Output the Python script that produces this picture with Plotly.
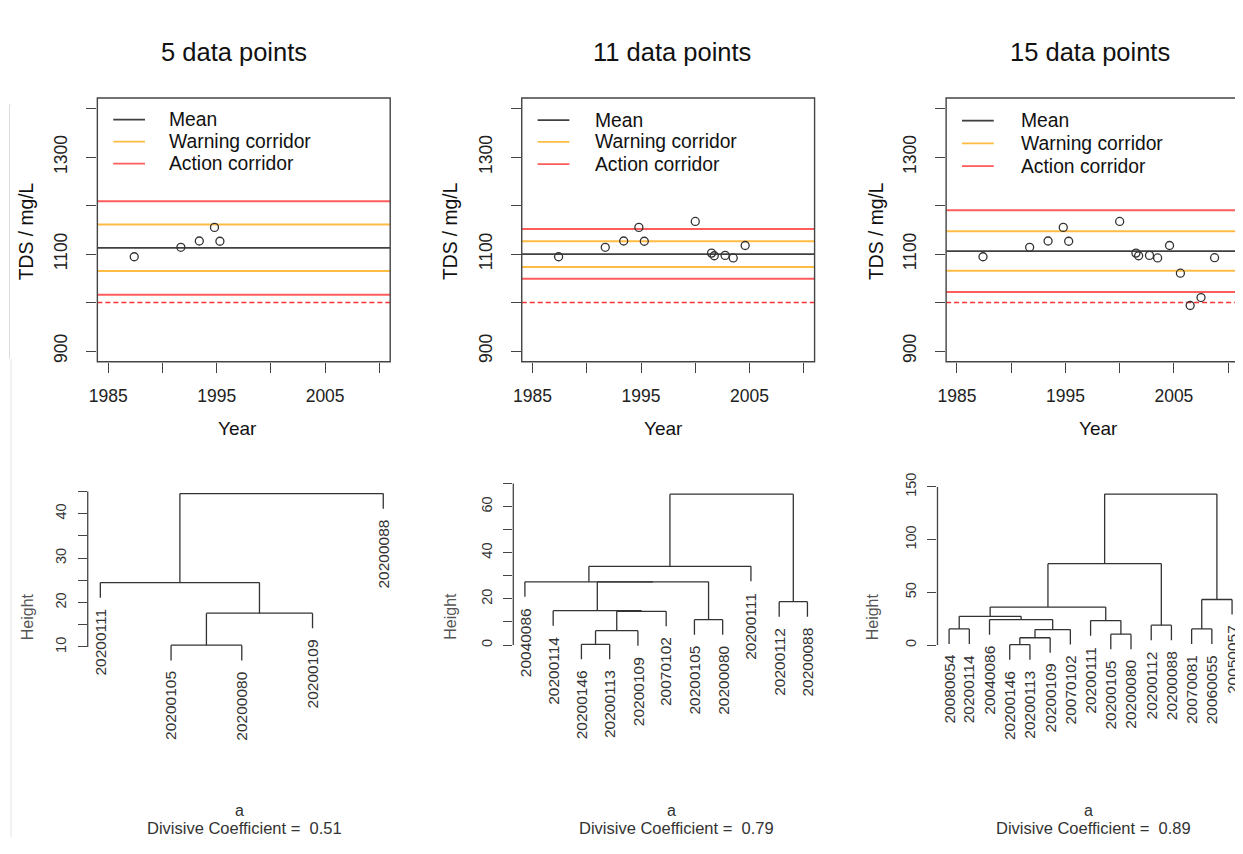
import plotly.graph_objects as go

W, H = 1243, 854          # target picture size
OFF = 8                   # default body margin of the html page (left/top/bottom)
FW, FH = W - OFF, H - 2 * OFF  # figure size so that the whole page == picture size
FONT = "Liberation Sans, Arial, sans-serif"

# ---------------- data: control charts ----------------
years = [1987.4, 1991.7, 1993.4, 1994.8, 1995.3, 2000.0, 2001.5, 2001.75,
         2002.75, 2003.5, 2004.6, 2005.6, 2006.5, 2007.5, 2008.75]
tds = [1094.5, 1114.0, 1127.0, 1155.0, 1126.5, 1167.3, 1102.0, 1096.6,
       1097.3, 1092.0, 1117.7, 1060.6, 994.0, 1010.4, 1092.5]
n_points = [5, 11, 15]
titles = ["5 data points", "11 data points", "15 data points"]
mean_vals = [1113.0, 1100.0, 1106.0]
warn_lo = [1065.0, 1073.5, 1065.4]
warn_hi = [1161.0, 1126.5, 1147.0]
act_lo = [1016.0, 1049.0, 1022.0]
act_hi = [1209.0, 1151.5, 1190.3]
limit_val = 1000
legend_labels = ["Mean", "Warning corridor", "Action corridor"]
year_ticks = [1985, 1990, 1995, 2000, 2005, 2010]
year_tick_text = ["1985", "", "1995", "", "2005", ""]
tds_ticks = [900, 1000, 1100, 1200, 1300, 1400]
tds_tick_text = ["900", "", "1100", "", "1300", ""]

# ---------------- data: dendrograms (R hclust style merges) ----------------
d1_labels = ["20200111", "20200105", "20200080", "20200109", "20200088"]
d1_merge = [(-2, -3), (1, -4), (-1, 2), (3, -5)]
d1_height = [10.4, 17.6, 24.5, 44.5]

d2_labels = ["20040086", "20200114", "20200146", "20200113", "20200109", "20070102",
             "20200105", "20200080", "20200111", "20200112", "20200088"]
d2_merge = [(-3, -4), (1, -5), (2, -6), (-2, 3), (-7, -8), (4, 5), (-1, 6),
            (7, -9), (-10, -11), (8, 9)]
d2_height = [0.3, 6.2, 14.6, 14.9, 11.0, 27.4, 27.4, 34.1, 18.8, 65.4]

d3_labels = ["20080054", "20200114", "20040086", "20200146", "20200113", "20200109",
             "20070102", "20200111", "20200105", "20200080", "20200112", "20200088",
             "20070081", "20060055", "20050057"]
d3_merge = [(-4, -5), (1, -6), (2, -7), (-3, 3), (-1, -2), (5, 4), (-9, -10),
            (-8, 7), (6, 8), (-11, -12), (9, 10), (-13, -14), (12, -15), (11, 13)]
d3_height = [0.3, 6.9, 14.7, 24.1, 15.3, 27.2, 10.3, 23.2, 36.0, 18.8, 77.2,
             15.3, 43.2, 143.2]

height_ticks = [list(range(10, 50, 5)), list(range(0, 80, 10)), [0, 50, 100, 150]]
height_tick_text = [["10", "", "20", "", "30", "", "40", ""],
                    ["0", "", "20", "", "40", "", "60", ""],
                    ["0", "50", "100", "150"]]
div_coef = [0.51, 0.79, 0.89]

dendros = [(d1_labels, d1_merge, d1_height),
           (d2_labels, d2_merge, d2_height),
           (d3_labels, d3_merge, d3_height)]

# ---------------- helpers (picture pixels -> paper fractions) ----------------
def fx(p):
    return (p - OFF) / FW


def fy(p):
    return 1 - (p - OFF) / FH


def dendro_coords(merge, height, n):
    hang = 0.1 * (max(height) - min(height))
    node = {}
    xs, ys = [], []
    leaf_pos = {}
    for k, (a, b) in enumerate(merge):
        h = height[k]
        cx = []
        for c in (a, b):
            if c < 0:
                x = -c
                ch = h - hang
                leaf_pos[-c - 1] = (x, ch)
            else:
                x, ch = node[c]
            cx.append(x)
            xs += [x, x, None]
            ys += [ch, h, None]
        xs += [cx[0], cx[1], None]
        ys += [h, h, None]
        node[k + 1] = ((cx[0] + cx[1]) / 2, h)
    return xs, ys, leaf_pos


fig = go.Figure()
shapes, annos = [], []
layout = dict()

BOX_COL = "#444444"
TXT = "#222222"
ORANGE = "#FFBC45"
RED = "#FF5C5C"

# top panels geometry (pixels)
box_x = [(97, 392), (524.5, 819.5), (952, 1247)]
box_top, box_bot = 98, 365
leg_text_off = [69.7, 71.4, 73]
leg_rows = [(120, 142.3, 164.5), (120.5, 142.5, 165), (121, 144, 167)]
title_cx = [235, 676, 1097]
year_cx = [238, 667, 1106]
tds_cx = [25, 453, 882]

for i in range(3):
    k = i + 1
    xa = "x" if k == 1 else f"x{k}"
    ya = "y" if k == 1 else f"y{k}"
    x0p, x1p = box_x[i]
    dom_r = min(x1p, W)
    xr0 = 1984
    xr1 = 1984 + (dom_r - x0p) * 27.0 / (x1p - x0p)
    layout[f"xaxis{'' if k == 1 else k}"] = dict(
        domain=[fx(x0p), fx(dom_r)], range=[xr0, xr1], anchor=ya,
        tickmode="array", tickvals=year_ticks, ticktext=year_tick_text,
        ticks="outside", ticklen=10, tickwidth=1.3, tickcolor=BOX_COL,
        showgrid=False, zeroline=False, showline=False,
        tickfont=dict(family=FONT, size=17.5, color=TXT), ticklabelstandoff=8)
    layout[f"yaxis{'' if k == 1 else k}"] = dict(
        domain=[fy(box_bot), fy(box_top)], range=[878, 1422], anchor=xa,
        tickmode="array", tickvals=tds_ticks, ticktext=tds_tick_text,
        tickangle=-90,
        ticks="outside", ticklen=10, tickwidth=1.3, tickcolor=BOX_COL,
        showgrid=False, zeroline=False, showline=False,
        tickfont=dict(family=FONT, size=17.5, color=TXT), ticklabelstandoff=12)

    n = n_points[i]
    fig.add_trace(go.Scatter(
        x=years[:n], y=tds[:n], mode="markers", xaxis=xa, yaxis=ya,
        marker=dict(symbol="circle-open", size=8, color="#333333",
                    line=dict(width=1.3, color="#333333")),
        showlegend=False, hoverinfo="x+y"))

    xd = f"{xa} domain"
    shapes.append(dict(type="rect", xref=xd, yref=f"{ya} domain",
                       x0=0, x1=(x1p - x0p) / (dom_r - x0p), y0=0, y1=1,
                       line=dict(color=BOX_COL, width=1.4), layer="above"))
    for val, col, wd, dash in [
            (act_hi[i], RED, 2.0, "solid"), (act_lo[i], RED, 2.0, "solid"),
            (warn_hi[i], ORANGE, 2.0, "solid"), (warn_lo[i], ORANGE, 2.0, "solid"),
            (mean_vals[i], "#404040", 1.7, "solid"),
            (limit_val, "#FF3030", 1.5, "5px,3px")]:
        shapes.append(dict(type="line", xref=xd, yref=ya, x0=0, x1=1,
                           y0=val, y1=val, line=dict(color=col, width=wd, dash=dash),
                           layer="below"))
    for row, lab, col in zip(leg_rows[i], legend_labels, ["#404040", ORANGE, RED]):
        shapes.append(dict(type="line", xref="paper", yref="paper",
                           x0=fx(x0p + 16), x1=fx(x0p + 48), y0=fy(row), y1=fy(row),
                           line=dict(color=col, width=1.8)))
        annos.append(dict(text=lab, xref="paper", yref="paper",
                          x=fx(x0p + leg_text_off[i]), y=fy(row), xanchor="left",
                          yanchor="middle", showarrow=False,
                          font=dict(family=FONT, size=19.3, color="#111111")))
    annos.append(dict(text=titles[i], xref="paper", yref="paper",
                      x=fx(title_cx[i]), y=fy(52), xanchor="center", yanchor="middle",
                      showarrow=False, font=dict(family=FONT, size=25.5, color="#111111")))
    annos.append(dict(text="Year", xref="paper", yref="paper",
                      x=fx(year_cx[i]), y=fy(433), xanchor="center", yanchor="middle",
                      showarrow=False, font=dict(family=FONT, size=19, color="#111111")))
    annos.append(dict(text="TDS / mg/L", xref="paper", yref="paper", textangle=-90,
                      x=fx(tds_cx[i]), y=fy(233), xanchor="center", yanchor="middle",
                      showarrow=False, font=dict(family=FONT, size=19.3, color="#111111")))

# dendrogram geometry (pixels)
d_axis_px = [87.3, 516, 943.3]
d_first_px = [100, 527.7, 955]
d_spacing = [71.25, 28.46, 20.36]
d_yref = [(10, 653.7, 4.5), (0, 651.7, 2.335), (0, 651.7, 1.0667)]
d_top, d_bot = 486, 690
height_cx = [26.7, 453.3, 878]
coef_cx = [245.5, 680, 1100]
a_cx = [240, 675, 1095]

for i in range(3):
    k = i + 4
    xa, ya = f"x{k}", f"y{k}"
    labels, merge, height = dendros[i]
    n = len(labels)
    axp, fp, sp = d_axis_px[i], d_first_px[i], d_spacing[i]
    rp = min(fp + (n - 1) * sp + (fp - axp), W)
    v0, p0, kk = d_yref[i]
    layout[f"xaxis{k}"] = dict(
        domain=[fx(axp), fx(rp)],
        range=[1 + (axp - fp) / sp, 1 + (rp - fp) / sp], anchor=ya,
        showticklabels=False, ticks="", showgrid=False, zeroline=False, showline=False)
    layout[f"yaxis{k}"] = dict(
        domain=[fy(d_bot), fy(d_top)],
        range=[v0 - (d_bot - p0) / kk, v0 + (p0 - d_top) / kk], anchor=xa,
        tickmode="array", tickvals=height_ticks[i], ticktext=height_tick_text[i],
        tickangle=-90, ticks="outside", ticklen=9, tickwidth=1.3, tickcolor=BOX_COL,
        showgrid=False, zeroline=False, showline=False,
        tickfont=dict(family=FONT, size=14.5, color="#333333"), ticklabelstandoff=6)
    shapes.append(dict(type="line", xref=f"{xa} domain", yref=ya, x0=0, x1=0,
                       y0=height_ticks[i][0], y1=height_ticks[i][-1],
                       line=dict(color=BOX_COL, width=1.3)))
    xs, ys, leaf_pos = dendro_coords(merge, height, n)
    fig.add_trace(go.Scatter(x=xs, y=ys, mode="lines", xaxis=xa, yaxis=ya,
                             line=dict(color="#333333", width=1.3),
                             showlegend=False, hoverinfo="skip"))
    for li, lab in enumerate(labels):
        lx, lh = leaf_pos[li]
        annos.append(dict(text=lab, xref=xa, yref=ya, x=lx, y=lh, textangle=-90,
                          xanchor="center", yanchor="top", yshift=-9, showarrow=False,
                          font=dict(family=FONT, size=15.5, color="#333333")))
    annos.append(dict(text="Height", xref="paper", yref="paper", textangle=-90,
                      x=fx(height_cx[i]), y=fy(623), xanchor="center", yanchor="middle",
                      showarrow=False, font=dict(family=FONT, size=16, color="#555555")))
    annos.append(dict(text="a", xref="paper", yref="paper",
                      x=fx(a_cx[i]), y=fy(819), xanchor="center", yanchor="middle",
                      showarrow=False, font=dict(family=FONT, size=16, color="#333333")))
    annos.append(dict(text=f"Divisive Coefficient =  {div_coef[i]:.2f}", xref="paper",
                      yref="paper", x=fx(coef_cx[i]), y=fy(837), xanchor="center",
                      yanchor="middle", showarrow=False,
                      font=dict(family=FONT, size=16.5, color="#333333")))

# faint frame edge at left of the picture
shapes.append(dict(type="line", xref="paper", yref="paper", x0=fx(8.5), x1=fx(10),
                   y0=fy(105), y1=fy(105), line=dict(color="#dddddd", width=1)))
shapes.append(dict(type="line", xref="paper", yref="paper", x0=fx(8.5), x1=fx(8.5),
                   y0=fy(105), y1=fy(362), line=dict(color="#dddddd", width=1)))
shapes.append(dict(type="line", xref="paper", yref="paper", x0=fx(10), x1=fx(10),
                   y0=fy(362), y1=fy(846), line=dict(color="#e4e4e4", width=1)))

fig.update_layout(width=FW, height=FH, margin=dict(l=0, r=0, t=0, b=0),
                  paper_bgcolor="white", plot_bgcolor="white",
                  shapes=shapes, annotations=annos, showlegend=False, **layout)
fig.write_html("out.html")
